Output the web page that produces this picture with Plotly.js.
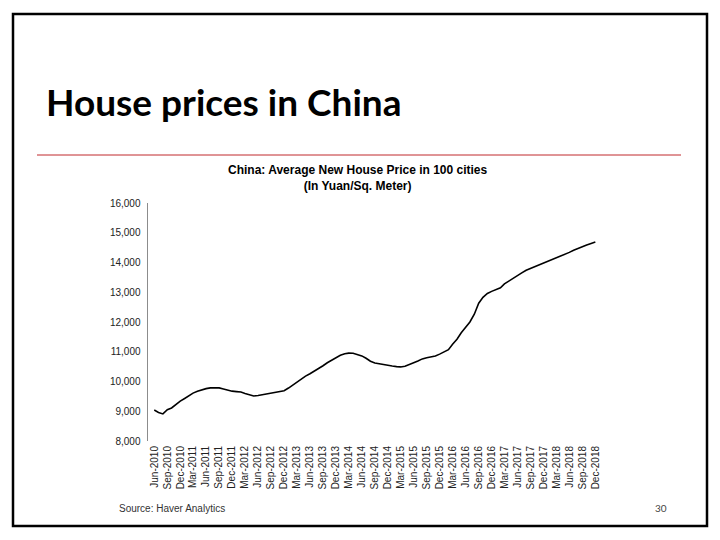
<!DOCTYPE html>
<html>
<head>
<meta charset="utf-8">
<script src="https://cdn.plot.ly/plotly-3.0.1.min.js"></script>
<style>
html,body{margin:0;padding:0;background:#fff;}
#chart{width:720px;height:540px;}
</style>
</head>
<body>
<div id="chart"></div>
<script>
// Monthly dates Jun-2010 .. Dec-2018
const startYear = 2010, startMonth = 6;
const prices = [
  9040, 8960, 8910, 9050, 9110, 9230, 9340, 9430, 9530, 9610, 9670, 9720,
  9760, 9785, 9790, 9785, 9750, 9700, 9675, 9660, 9645, 9600, 9550, 9515,
  9530, 9560, 9590, 9620, 9650, 9670, 9690, 9780, 9890, 9980, 10080, 10180,
  10260, 10340, 10430, 10530, 10630, 10720, 10800, 10880, 10930, 10955, 10950, 10910,
  10860, 10780, 10680, 10620, 10590, 10560, 10540, 10520, 10500, 10490, 10510, 10560,
  10630, 10690, 10760, 10800, 10830, 10860, 10920, 11000, 11070, 11250, 11420, 11640,
  11830, 12000, 12260, 12630, 12830, 12960, 13030, 13080, 13150, 13280, 13380, 13470,
  13570, 13650, 13740, 13800, 13860, 13910, 13970, 14030, 14090, 14140, 14200, 14270,
  14340, 14410, 14480, 14540, 14590, 14640, 14690
];
const dates = prices.map((_, i) => {
  const mIdx = startMonth - 1 + i;
  const y = startYear + Math.floor(mIdx / 12);
  const m = (mIdx % 12) + 1;
  return y + "-" + String(m).padStart(2, "0") + "-01";
});

const slideTitle = "House prices in China";
const chartTitleLines = ["China: Average New House Price in 100 cities", "(In Yuan/Sq. Meter)"];
const sourceText = "Source: Haver Analytics";
const pageNumber = "30";
const yTicks = [8000, 9000, 10000, 11000, 12000, 13000, 14000, 15000, 16000];

// plot area in pixels
const L = 148, R = 605, T = 203, B = 441;
const W = 720, H = 540;
const xp = px => (px - L) / (R - L);
const yp = py => (B - py) / (B - T);

const trace = {
  x: dates, y: prices, type: "scatter", mode: "lines",
  line: {color: "#000000", width: 1.6},
  hoverinfo: "skip"
};

const layout = {
  width: W, height: H,
  margin: {l: L, r: W - R, t: T, b: H - B, pad: 0},
  paper_bgcolor: "#ffffff", plot_bgcolor: "#ffffff",
  showlegend: false,
  xaxis: {
    type: "date",
    range: ["2010-04-18", "2019-02-07"],
    tick0: "2010-06-01", dtick: "M3",
    tickformat: "%b-%Y",
    tickangle: -90,
    showgrid: false, zeroline: false, showline: false,
    ticks: "",
    ticklabelstandoff: 2,
    tickfont: {family: "Liberation Sans, Arial, sans-serif", size: 10, color: "#222"}
  },
  yaxis: {
    range: [8000, 16000],
    tickvals: yTicks,
    ticktext: yTicks.map(v => v.toLocaleString("en-US")),
    showgrid: false, zeroline: false,
    showline: true, linecolor: "#8c8c8c", linewidth: 1.5,
    ticks: "",
    ticklabelstandoff: 4,
    tickfont: {family: "Liberation Sans, Arial, sans-serif", size: 10, color: "#222"}
  },
  shapes: [
    {type: "rect", xref: "paper", yref: "paper",
     x0: xp(13), x1: xp(707), y0: yp(526), y1: yp(14),
     line: {color: "#000", width: 2.5}, fillcolor: "rgba(0,0,0,0)", layer: "above"},
    {type: "line", xref: "paper", yref: "paper",
     x0: xp(37), x1: xp(681), y0: yp(155), y1: yp(155),
     line: {color: "#c0282d", width: 1}}
  ],
  annotations: [
    {text: slideTitle, xref: "paper", yref: "paper", x: xp(44), y: yp(102),
     xanchor: "left", yanchor: "middle", showarrow: false,
     font: {family: "Lato, sans-serif", size: 37, color: "#000", weight: 700}},
    {text: chartTitleLines.map(s => "<b>" + s + "</b>").join("<br>"), xref: "paper", yref: "paper",
     x: xp(358), y: yp(178), xanchor: "center", yanchor: "middle", showarrow: false,
     font: {family: "Liberation Sans, Arial, sans-serif", size: 12, color: "#000"}},
    {text: sourceText, xref: "paper", yref: "paper", x: xp(117), y: yp(509),
     xanchor: "left", yanchor: "middle", showarrow: false,
     font: {family: "Liberation Sans, Arial, sans-serif", size: 10, color: "#333"}},
    {text: pageNumber, xref: "paper", yref: "paper", x: xp(661), y: yp(508),
     xanchor: "center", yanchor: "middle", showarrow: false,
     font: {family: "Lato, sans-serif", size: 10, color: "#444"}}
  ]
};

Plotly.newPlot("chart", [trace], layout, {displayModeBar: false, staticPlot: true});
</script>
</body>
</html>
